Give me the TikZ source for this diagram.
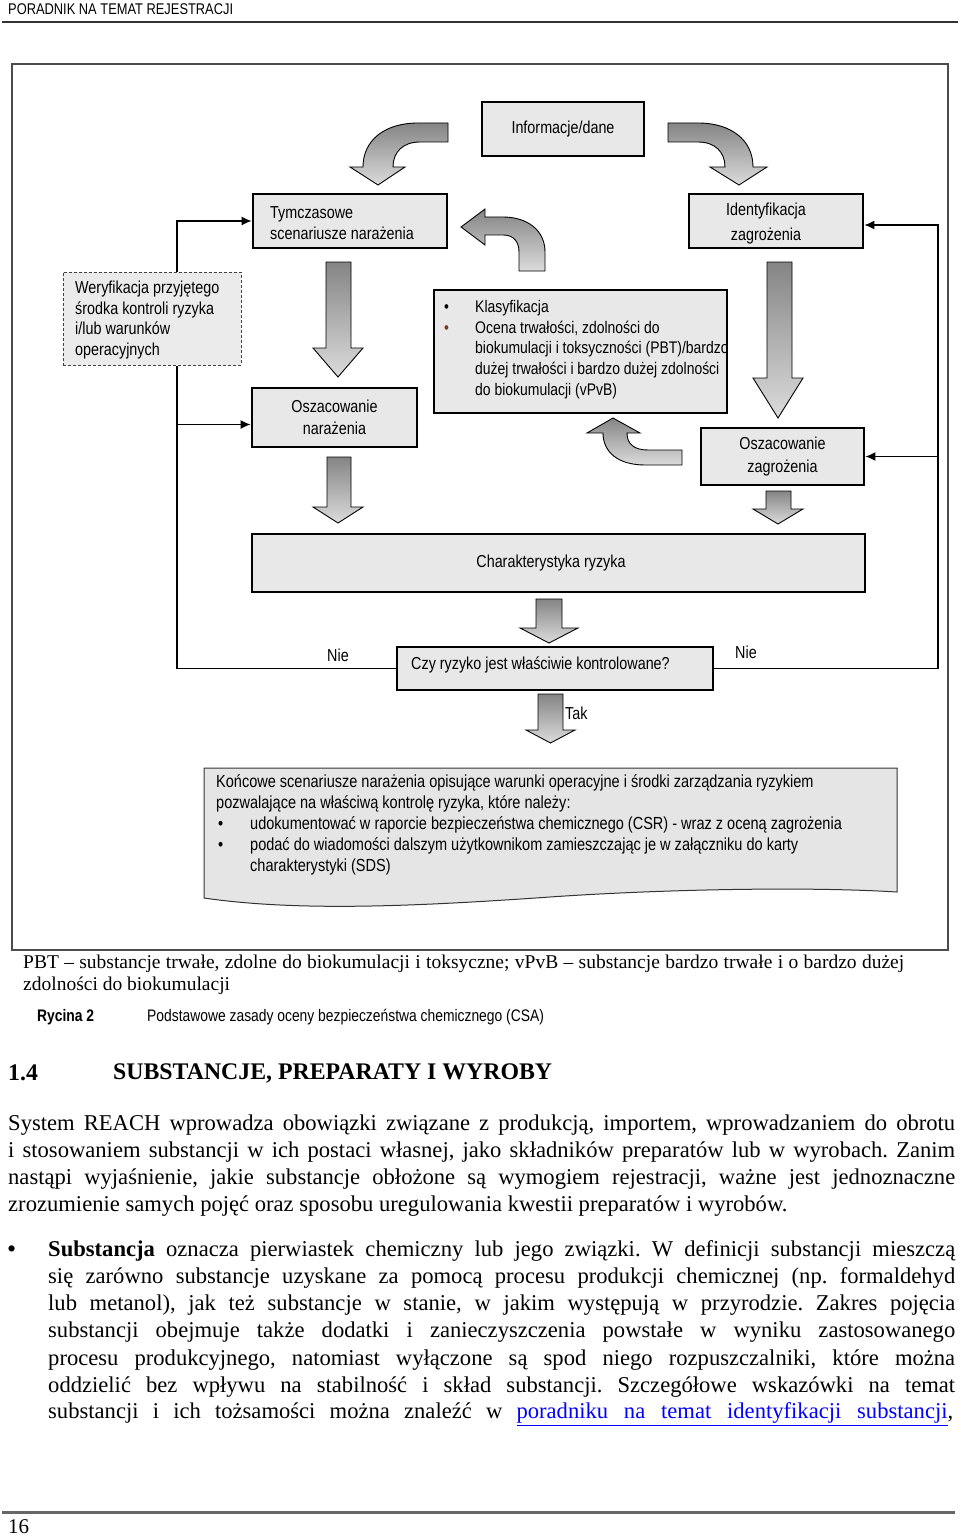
\documentclass[tikz,border=0pt]{standalone}
\usepackage{fontspec}
\setmainfont{Liberation Serif}
\newfontfamily\nsans[FakeStretch=0.83]{Liberation Sans}
\usetikzlibrary{arrows.meta,calc}
\definecolor{boxfill}{HTML}{E8E8E8}
\definecolor{linkblue}{HTML}{0000FF}
\definecolor{bulbrown}{HTML}{7A3A1A}
\newcommand{\dgfont}{\nsans\fontsize{17.3}{20.7}\selectfont}
\newcommand{\downblk}[7]{\path[blk] (#1,#3) -- (#2,#3) -- (#2,#4) -- (#6,#4) -- ({(#5+#6)/2},#7) -- (#5,#4) -- (#1,#4) -- cycle;}
\frenchspacing
\begin{document}
\begin{tikzpicture}[x=1pt,y=-1pt,
  box/.style={draw=black, line width=2.8pt, fill=boxfill, inner sep=0pt},
  blk/.style={draw=black, line width=0.9pt, top color=black!48, bottom color=black!14},
  conn/.style={draw=black, line width=1.2pt},
  tip/.style={-{Latex[length=10pt,width=9pt]}},
  dtext/.style={font=\dgfont, inner sep=0pt},
  ptext/.style={anchor=west, inner sep=0pt, font=\fontsize{22.6}{27}\selectfont}
]
\useasboundingbox (0,0) rectangle (960,1538);
\fill[white] (0,0) rectangle (960,1538);

% page header
\node[anchor=west, inner sep=0pt, font=\nsans\fontsize{15.5}{18}\selectfont] (hdr) at (8,9) {PORADNIK NA TEMAT REJESTRACJI};
\draw[black!80, line width=2pt] (2,22) -- (958,22);

% frame
\draw[black!70, line width=1.3pt] (12,64) rectangle (948,950);

% boxes
\node[box, minimum width=162pt, minimum height=54pt, font=\dgfont] (info) at (563,129) {Informacje/dane};
\node[box, minimum width=194pt, minimum height=54pt] (tym) at (350,221) {};
\node[dtext, anchor=west, align=left] (tymT) at (270,223) {Tymczasowe\\scenariusze narażenia};
\node[box, minimum width=174pt, minimum height=54pt] (ident) at (776,221) {};
\node[dtext, align=center] (identT) at (766,223.5) {Identyfikacja\\[4pt]zagrożenia};
\node[draw=black!75, dash pattern=on 3pt off 2pt, line width=1pt, fill=black!8, minimum width=178pt, minimum height=93pt, inner sep=0pt] (verif) at (152,318.5) {};
\node[dtext, anchor=west, align=left] (verifT) at (75,320) {Weryfikacja przyjętego\\środka kontroli ryzyka\\i/lub warunków\\operacyjnych};
\node[box, minimum width=165pt, minimum height=59pt, font=\dgfont, align=center] (oszN) at (334.5,417.5) {Oszacowanie\\[1.3pt]narażenia};
\node[box, minimum width=293pt, minimum height=123pt] (klas) at (580.5,351.5) {};
\node[dtext, anchor=west, align=left, font=\nsans\fontsize{16.8}{20.7}\selectfont] (klasT) at (444,349.5) {\makebox[31pt][l]{\textbullet}Klasyfikacja\\\makebox[31pt][l]{\color{bulbrown}\textbullet}Ocena trwałości, zdolności do\\\hspace*{31pt}biokumulacji i toksyczności (PBT)/bardzo\\\hspace*{31pt}dużej trwałości i bardzo dużej zdolności\\\hspace*{31pt}do biokumulacji (vPvB)};
\node[box, minimum width=163pt, minimum height=57pt, font=\dgfont, align=center] (oszZ) at (782.5,456.5) {Oszacowanie\\[1.5pt]zagrożenia};
\node[box, minimum width=613pt, minimum height=58pt, font=\dgfont] (char) at (558.5,563) {\hspace*{-15pt}Charakterystyka ryzyka};
\node[box, minimum width=316pt, minimum height=43pt] (czy) at (555,668.5) {};
\node[dtext, anchor=west] (czyT) at (411,665) {Czy ryzyko jest właściwie kontrolowane?};
\node[dtext] (nieL) at (338,655) {Nie};
\node[dtext] (nieR) at (746,652) {Nie};
\node[dtext, anchor=west] (tak) at (565,713) {Tak};

% final document-shaped box
\path[draw=black!80, line width=1pt, fill=black!10] (204,768) -- (897,768) -- (897,892) .. controls (800,886) and (650,890) .. (550,897) .. controls (420,906) and (300,912) .. (204,898) -- cycle;
\node[dtext, anchor=west, align=left, font=\nsans\fontsize{17.5}{21}\selectfont] (finT) at (216,825) {Końcowe scenariusze narażenia opisujące warunki operacyjne i środki zarządzania ryzykiem\\pozwalające na właściwą kontrolę ryzyka, które należy:\\\hspace*{2pt}\makebox[32pt][l]{\textbullet}udokumentować w raporcie bezpieczeństwa chemicznego (CSR) - wraz z oceną zagrożenia\\\hspace*{2pt}\makebox[32pt][l]{\textbullet}podać do wiadomości dalszym użytkownikom zamieszczając je w załączniku do karty\\\hspace*{34pt}charakterystyki (SDS)};

% block arrows: straight
\downblk{326}{351}{262}{348}{313}{363}{377}
\downblk{327}{351}{457}{507}{313}{363}{523}
\downblk{767}{792}{262}{378}{753}{803}{418}
\downblk{766}{791}{491}{509}{753}{803}{524}
\downblk{536}{562}{599}{628}{520}{578}{643}
\downblk{538}{563}{694}{730}{526}{575}{743}

% block arrows: curved
\path[blk] (448,123) -- (418,123) .. controls (385,123) and (363,140) .. (363,167) -- (350,167) -- (378,185) -- (405,167) -- (393,167) .. controls (393,152) and (403,142) .. (420,142) -- (448,142) -- cycle;
\path[blk] (668,123) -- (698,123) .. controls (731,123) and (753,140) .. (753,167) -- (767,167) -- (739,185) -- (710,167) -- (725,167) .. controls (725,152) and (715,142) .. (698,142) -- (668,142) -- cycle;
\path[blk] (519,271) -- (545,271) -- (545,252) .. controls (545,230) and (527,217) .. (503,217) -- (485,217) -- (485,209) -- (461,227) -- (485,245) -- (485,235) -- (503,235) .. controls (514,235) and (519,242) .. (519,252) -- cycle;
\path[blk] (682,450) -- (682,465) -- (645,465) .. controls (618,465) and (603,452) .. (603,433) -- (587,433) -- (613,418) -- (640,433) -- (627,433) .. controls (627,444) and (634,450) .. (648,450) -- cycle;

% connectors
\coordinate (xl) at (177,0);
\coordinate (xr) at (938,225);
\draw[conn, tip] (verif.north -| xl) |- (tym.west);
\draw[conn] (czy.west) -| (verif.south -| xl);
\draw[conn, tip] ($(xl |- oszN.west)+(0,7)$) -- ($(oszN.west)+(0,7)$);
\draw[conn, tip] (czy.east) -| (xr) -- (ident.east |- xr);
\draw[conn, tip] (xr |- oszZ.east) -- (oszZ.east);

% footnote and caption
\node[anchor=west, inner sep=0pt, font=\fontsize{19.5}{22}\selectfont] (fn1) at (23,964) {\makebox[881pt][s]{PBT – substancje trwałe, zdolne do biokumulacji i toksyczne; vPvB – substancje bardzo trwałe i o bardzo dużej}};
\node[anchor=west, inner sep=0pt, font=\fontsize{19.5}{22}\selectfont] (fn2) at (23,986) {zdolności do biokumulacji};
\node[anchor=west, inner sep=0pt, font=\nsans\bfseries\fontsize{16.7}{20}\selectfont] (ryc) at (37,1017) {Rycina 2};
\node[anchor=west, inner sep=0pt, font=\nsans\fontsize{16.7}{20}\selectfont] (rycT) at (147,1017) {Podstawowe zasady oceny bezpieczeństwa chemicznego (CSA)};

% section heading
\node[anchor=west, inner sep=0pt, font=\bfseries\fontsize{23.8}{28}\selectfont] (h14) at (8,1073) {1.4};
\node[anchor=west, inner sep=0pt, font=\bfseries\fontsize{23.8}{28}\selectfont] (hT) at (113,1073) {SUBSTANCJE, PREPARATY I WYROBY};

% body paragraph
\node[ptext] (p1) at (8,1125) {\makebox[947pt][s]{System REACH wprowadza obowiązki związane z produkcją, importem, wprowadzaniem do obrotu}};
\node[ptext] (p2) at (8,1152) {\makebox[947pt][s]{i stosowaniem substancji w ich postaci własnej, jako składników preparatów lub w wyrobach. Zanim}};
\node[ptext] (p3) at (8,1179) {\makebox[947pt][s]{nastąpi wyjaśnienie, jakie substancje obłożone są wymogiem rejestracji, ważne jest jednoznaczne}};
\node[ptext] (p4) at (8,1206) {zrozumienie samych pojęć oraz sposobu uregulowania kwestii preparatów i wyrobów.};

% bullet paragraph
\node[ptext, font=\fontsize{26}{28}\selectfont] (bul) at (7,1252) {\textbullet};
\node[ptext] (b1) at (48,1251) {\makebox[907pt][s]{\textbf{Substancja} oznacza pierwiastek chemiczny lub jego związki. W definicji substancji mieszczą}};
\node[ptext] (b2) at (48,1278) {\makebox[907pt][s]{się zarówno substancje uzyskane za pomocą procesu produkcji chemicznej (np. formaldehyd}};
\node[ptext] (b3) at (48,1305) {\makebox[907pt][s]{lub metanol), jak też substancje w stanie, w jakim występują w przyrodzie. Zakres pojęcia}};
\node[ptext] (b4) at (48,1332) {\makebox[907pt][s]{substancji obejmuje także dodatki i zanieczyszczenia powstałe w wyniku zastosowanego}};
\node[ptext] (b5) at (48,1360) {\makebox[907pt][s]{procesu produkcyjnego, natomiast wyłączone są spod niego rozpuszczalniki, które można}};
\node[ptext] (b6) at (48,1387) {\makebox[907pt][s]{oddzielić bez wpływu na stabilność i skład substancji. Szczegółowe wskazówki na temat}};
\node[ptext] (b7) at (48,1414) {\makebox[905pt][s]{substancji i ich tożsamości można znaleźć w \textcolor{linkblue}{\underline{\makebox[431pt][s]{poradniku na temat identyfikacji substancji}}},}};

% footer
\draw[black!60, line width=3pt] (2,1512) -- (955,1512);
\node[anchor=west, inner sep=0pt, font=\fontsize{21}{24}\selectfont] (pg) at (8,1527) {16};
\end{tikzpicture}
\end{document}
